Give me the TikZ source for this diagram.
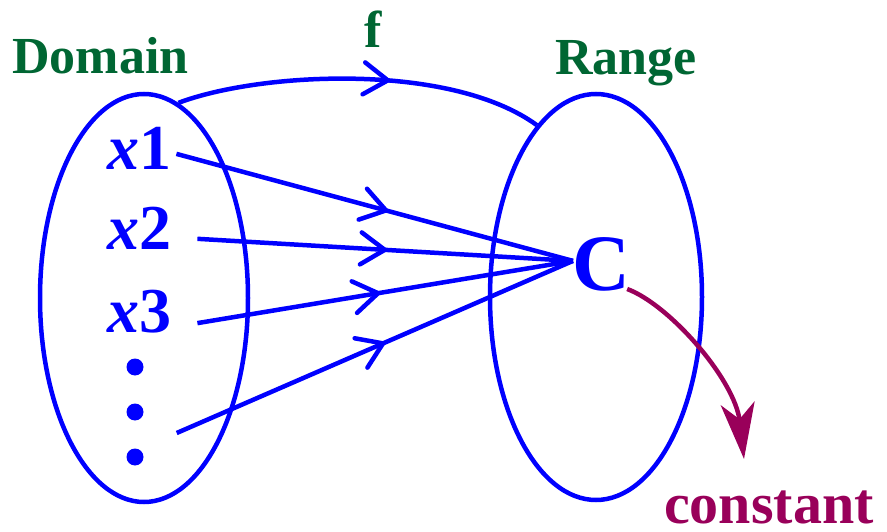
\documentclass[tikz,border=0pt]{standalone}
\usepackage{fontspec}
\setmainfont{Liberation Serif}
\usetikzlibrary{arrows.meta,decorations.markings,shapes.geometric}
\definecolor{dgreen}{RGB}{0,102,51}
\definecolor{maroonc}{RGB}{153,0,90}
\begin{document}
\begin{tikzpicture}[x=1pt,y=-1pt,
  lbl/.style={text=dgreen,font=\fontsize{52}{60}\selectfont\bfseries,inner sep=0pt,anchor=base west},
  xlbl/.style={text=blue,font=\fontsize{64}{70}\selectfont\bfseries,inner sep=0pt,anchor=base west},
  setshape/.style={draw=blue,line width=4.5pt,ellipse,inner sep=0pt},
  conn/.style={draw=blue,line width=4.5pt},
  midarrow/.style={postaction={decorate},decoration={markings,mark=at position #1 with {\arrow{Straight Barb[length=24pt,width=32pt,line width=4.5pt,round]}}}},
  dotnode/.style={circle,fill=blue,minimum size=17pt,inner sep=0pt}
]
\useasboundingbox (0,0) rectangle (887,532);
% sets
\node[setshape,minimum width=208pt,minimum height=408pt] (dom) at (144,298) {};
\node[setshape,minimum width=212pt,minimum height=406pt] (rng) at (596,297) {};
% labels
\node[lbl] (domlbl) at (12,74) {Domain};
\node[lbl] (rnglbl) at (555,75) {Range};
\node[lbl,anchor=base] (flbl) at (373,48) {f};
% elements
\node[xlbl] (x1) at (107,170) {{\itshape x}1};
\node[xlbl] (x2) at (107,250) {{\itshape x}2};
\node[xlbl] (x3) at (107,332) {{\itshape x}3};
\node[dotnode] (d1) at (135,367) {};
\node[dotnode] (d2) at (135,412) {};
\node[dotnode] (d3) at (135,457) {};
\node[text=blue,font=\fontsize{80}{90}\selectfont\bfseries,inner sep=0pt,anchor=base west] (C) at (572,290) {C};
\node[text=maroonc,font=\fontsize{58}{66}\selectfont\bfseries,inner sep=0pt,anchor=base west] (const) at (664,523) {constant};
% connection points
\coordinate (cin) at ([shift={(1,-3)}]C.west);
\coordinate (s1) at ([shift={(5,5)}]x1.east);
\coordinate (s2) at ([shift={(26,10)}]x2.east);
\coordinate (s3) at ([shift={(26,12)}]x3.east);
\coordinate (s4) at ([shift={(33,21)}]d2.east);
\coordinate (cend) at (744,459);
% f arc
\draw[conn,midarrow=0.58] (dom.80) .. controls (260,72) and (450,62) .. (rng.109);
% mappings
\draw[conn,midarrow=0.534] (s1) -- (cin);
\draw[conn,midarrow=0.505] (s2) -- (cin);
\draw[conn,midarrow=0.487] (s3) -- (cin);
\draw[conn,midarrow=0.526] (s4) -- (cin);
% constant arrow
\draw[draw=maroonc,line width=4.5pt,-{Stealth[length=56pt,width=34pt,inset=16pt]}] ([shift={(-3,-2)}]C.south east) .. controls (670,305) and (735,380) .. (cend);
\end{tikzpicture}
\end{document}
